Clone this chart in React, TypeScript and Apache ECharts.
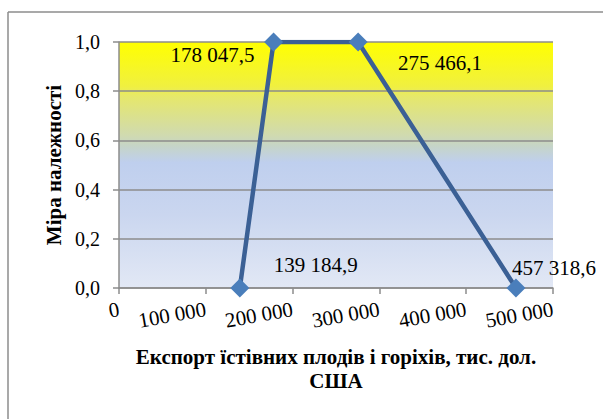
import React, { useEffect, useRef } from "react";
import * as echarts from "echarts";

const exportValues = [139184.9, 178047.5, 275466.1, 457318.6];
const membership = [0, 1, 1, 0];
const pointLabels = ["139 184,9", "178 047,5", "275 466,1", "457 318,6"];
const labelOffsets = [[76, -23], [-61, 13], [82, 21], [38, -20]];
const xTitle = "Експорт їстівних плодів і горіхів, тис. дол.\nСША";
const yTitle = "Міра належності";

const fmtX = (v: number) => {
  if (v === 0) return "0";
  const s = String(Math.round(v));
  return s.replace(/\B(?=(\d{3})+(?!\d))/g, " ");
};

export default function App() {
  const ref = useRef<HTMLDivElement>(null);
  useEffect(() => {
    if (!ref.current) return;
    const chart = echarts.init(ref.current, undefined, { renderer: "svg" });
    const font = "'Liberation Serif', 'Times New Roman', serif";
    chart.setOption({
      animation: false,
      backgroundColor: "#ffffff",
      textStyle: { fontFamily: font },
      graphic: [
        { type: "line", shape: { x1: 8, y1: 12, x2: 8, y2: 419 }, style: { stroke: "#8c8c8c", lineWidth: 1.5 } },
        { type: "line", shape: { x1: 8, y1: 12, x2: 603, y2: 12 }, style: { stroke: "#8c8c8c", lineWidth: 1.5 } },
      ],
      grid: {
        left: 119,
        right: 50,
        top: 42,
        bottom: 131,
        show: true,
        borderWidth: 0,
        backgroundColor: {
          type: "linear",
          x: 0, y: 0, x2: 0, y2: 1,
          colorStops: [
            { offset: 0, color: "#ffff00" },
            { offset: 0.18, color: "#f0f040" },
            { offset: 0.22, color: "#e6e86a" },
            { offset: 0.38, color: "#d0dab0" },
            { offset: 0.42, color: "#c6d5c6" },
            { offset: 0.49, color: "#bfcfee" },
            { offset: 0.7, color: "#cad6ef" },
            { offset: 1, color: "#e2e8f5" },
          ],
        },
      },
      xAxis: {
        type: "value",
        min: 0,
        max: 500000,
        interval: 100000,
        name: xTitle,
        nameLocation: "middle",
        nameGap: 57,
        nameTextStyle: { fontFamily: font, fontWeight: "bold", fontSize: 21, color: "#000", lineHeight: 24 },
        axisLine: { show: true, lineStyle: { color: "#8c8c8c", width: 1.5 } },
        axisTick: { show: true, length: 6, lineStyle: { color: "#8c8c8c", width: 1.5 } },
        splitLine: { show: false },
        axisLabel: { rotate: 10, margin: 21, fontFamily: font, fontSize: 21, color: "#000", formatter: fmtX },
      },
      yAxis: {
        type: "value",
        min: 0,
        max: 1,
        interval: 0.2,
        name: yTitle,
        nameLocation: "middle",
        nameGap: 55,
        nameTextStyle: { fontFamily: font, fontWeight: "bold", fontSize: 21, color: "#000" },
        axisLine: { show: true, lineStyle: { color: "#8c8c8c", width: 1.5 } },
        axisTick: { show: true, length: 6, lineStyle: { color: "#8c8c8c", width: 1.5 } },
        splitLine: { show: true, lineStyle: { color: "#8c8c8c", width: 1.5 } },
        axisLabel: {
          margin: 19,
          fontFamily: font,
          fontSize: 20,
          color: "#000",
          formatter: (v: number) => v.toFixed(1).replace(".", ","),
        },
      },
      series: [
        {
          type: "line",
          data: exportValues.map((x, i) => ({
            value: [x, membership[i]],
            label: {
              show: true,
              position: "inside",
              offset: labelOffsets[i],
              formatter: pointLabels[i],
            },
          })),
          lineStyle: { color: "#3b6095", width: 4.5 },
          symbol: "diamond",
          symbolSize: 19,
          itemStyle: { color: "#4a7ebb" },
          label: { fontFamily: font, fontSize: 21, color: "#000" },
          z: 5,
        },
      ],
    });
    return () => chart.dispose();
  }, []);
  return (
    <div
      ref={ref}
      style={{ position: "absolute", left: 0, top: 0, width: 603, height: 419 }}
    />
  );
}
